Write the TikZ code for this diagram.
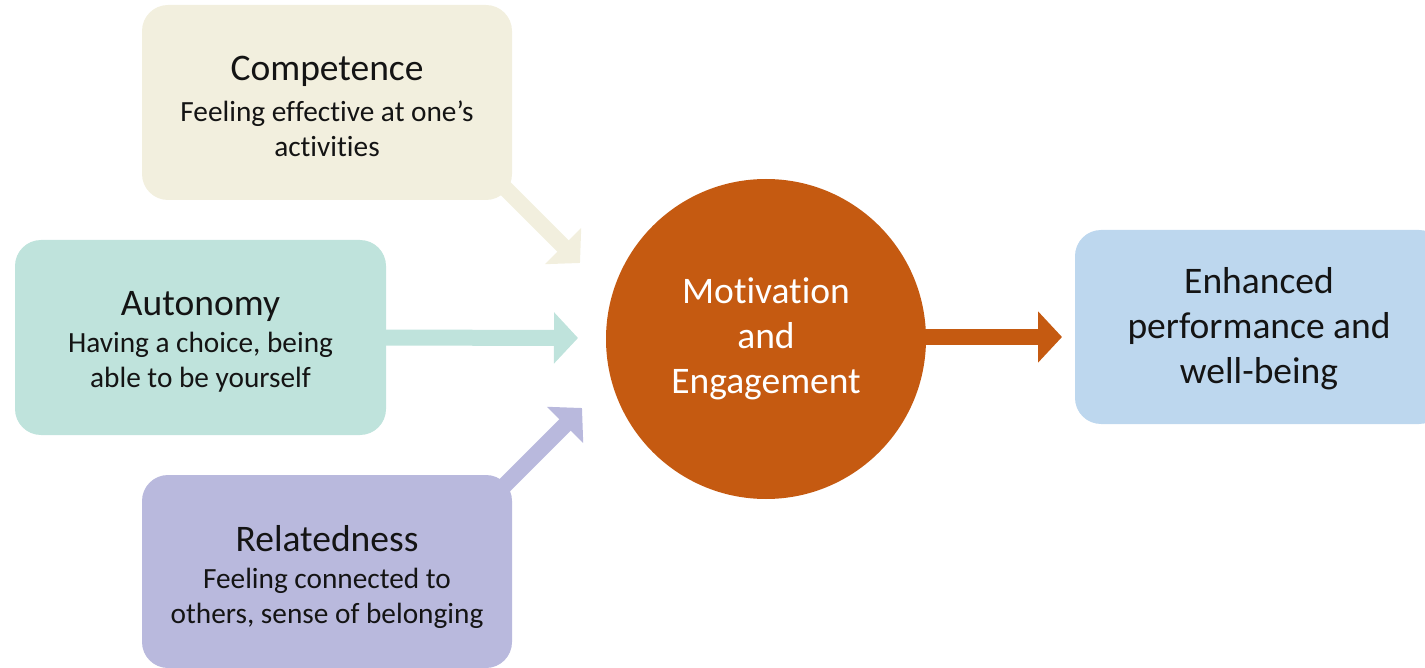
\documentclass[tikz,border=0pt]{standalone}
\usepackage{fontspec}
\setmainfont{Carlito}[Ligatures=NoCommon,RawFeature={-liga;-dlig;-clig;-calt}]
\usetikzlibrary{arrows.meta,backgrounds}
\newcommand{\lgbrk}{\kern0pt{}}
\definecolor{cream}{HTML}{F2EFDE}
\definecolor{mint}{HTML}{BFE3DC}
\definecolor{lav}{HTML}{B9B9DD}
\definecolor{rust}{HTML}{C55A11}
\definecolor{sky}{HTML}{BDD7EE}
\definecolor{ink}{HTML}{141414}
\tikzset{
  boxbg/.style={draw=none, rounded corners=26pt, inner sep=0pt},
  ttl/.style={anchor=base, inner sep=0pt, text=ink, font=\fontsize{37.5}{45}\selectfont},
  sub/.style={anchor=base, inner sep=0pt, text=ink, font=\fontsize{29.3}{35}\selectfont},
  ctext/.style={anchor=base, inner sep=0pt, text=white, font=\fontsize{37.5}{45}\selectfont},
  fatarrow/.style={line width=16pt, -{Triangle[length=24pt,width=50pt]}}
}
\begin{document}
\begin{tikzpicture}[x=1pt,y=-1pt]
\useasboundingbox (0,0) rectangle (1425,668);
% boxes
\node[boxbg, fill=cream, minimum width=370pt, minimum height=195pt] (comp) at (327,102.5) {};
\node[boxbg, fill=mint, minimum width=371pt, minimum height=195pt] (auto) at (200.5,337.5) {};
\node[boxbg, fill=lav, minimum width=370pt, minimum height=193pt] (rel) at (327,571.5) {};
\node[boxbg, fill=sky, minimum width=370pt, minimum height=194pt] (enh) at (1260,327) {};
\node[circle, fill=rust, draw=none, minimum size=320pt, inner sep=0pt] (mot) at (766,339) {};
% texts
\node[ttl] (compt) at (327,81) {Competence};
\node[sub] (comps1) at (327,122) {Feeling ef\lgbrk fec\lgbrk t\lgbrk ive at one’s};
\node[sub] (comps2) at (327,157) {ac\lgbrk t\lgbrk ivit\lgbrk ies};
\node[ttl] (autot) at (200.5,316) {Autonomy};
\node[sub] (autos1) at (200.5,353) {Having a choice, being};
\node[sub] (autos2) at (200.5,388) {able to be yourself};
\node[ttl] (relt) at (327,551) {Relatedness};
\node[sub] (rels1) at (327,588) {Feeling connected to};
\node[sub] (rels2) at (327,623) {others, sense of belonging};
\node[ctext] (mot1) at (766,304) {Motivat\lgbrk ion};
\node[ctext] (mot2) at (766,349) {and};
\node[ctext] (mot3) at (766,393) {Engagement};
\node[ttl] (enh1) at (1259,294) {Enhanced};
\node[ttl] (enh2) at (1259,339) {performance and};
\node[ttl] (enh3) at (1259,384) {well-being};
% arrow endpoints
\coordinate (comptip) at (580,263);
\coordinate (autotip) at (578,338);
\coordinate (reltip) at (582,408);
\coordinate (mottip) at (1062,337);
\coordinate (compstart) at (485,168);
\coordinate (relstart) at (485,505);
\begin{scope}[on background layer]
\draw[fatarrow, draw=cream] (compstart) -- (comptip);
\draw[fatarrow, draw=mint] (auto.east) ++(-20,0) -- (autotip);
\draw[fatarrow, draw=lav] (relstart) -- (reltip);
\draw[fatarrow, draw=rust] (mot.center) ++(150,-2) -- (mottip);
\end{scope}
\end{tikzpicture}
\end{document}
